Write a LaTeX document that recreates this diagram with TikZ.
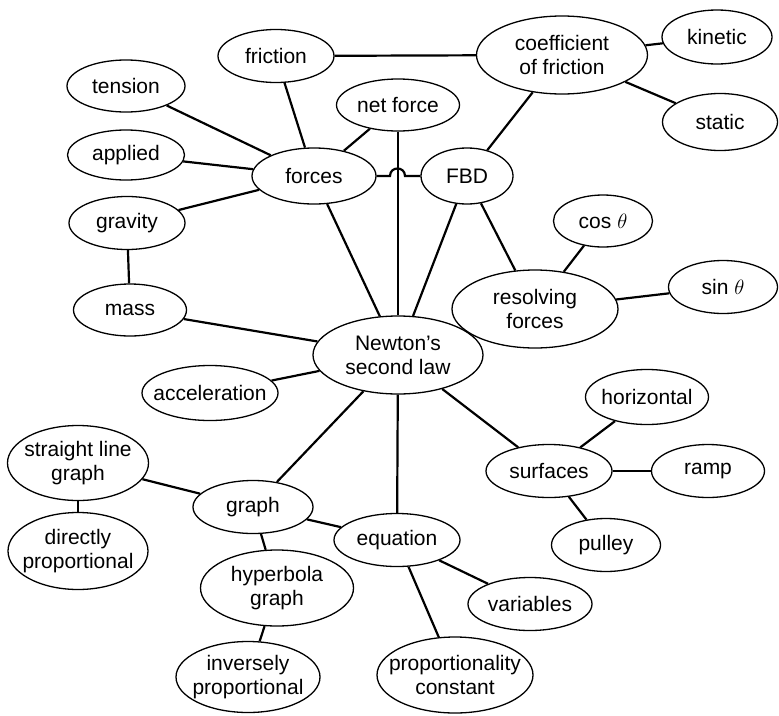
\documentclass[tikz,border=0pt]{standalone}
\usepackage{fontspec}
\setmainfont{Liberation Sans}
\usepackage{tikz}
\usetikzlibrary{shapes.geometric}

\begin{document}
\begin{tikzpicture}[
  x=1pt,y=-1pt,
  font=\fontsize{21}{24}\selectfont,
  concept/.style={draw=black,ellipse,line width=1.3pt,inner xsep=-16pt,inner ysep=-8pt,align=center},
  link/.style={line width=2.2pt,black}
]
\useasboundingbox (0,0) rectangle (779,715);
\node[concept,minimum width=116pt,minimum height=53pt] (fric) at (276,56) {friction};
\node[concept,minimum width=171pt,minimum height=78pt] (coef) at (562,55) {coefficient\\of friction};
\node[concept,minimum width=110pt,minimum height=54pt] (kin) at (717,37) {kinetic};
\node[concept,minimum width=115pt,minimum height=57pt] (stat) at (720,122) {static};
\node[concept,minimum width=118pt,minimum height=52pt] (tens) at (126,86) {tension};
\node[concept,minimum width=123pt,minimum height=52pt] (netf) at (398,105) {net force};
\node[concept,minimum width=117pt,minimum height=50pt] (appl) at (126,155) {applied};
\node[concept,minimum width=124pt,minimum height=56pt] (forces) at (314,176) {forces};
\node[concept,minimum width=92pt,minimum height=56pt] (fbd) at (467,176) {FBD};
\node[concept,minimum width=116pt,minimum height=53pt] (grav) at (127,223) {gravity};
\node[concept,minimum width=99pt,minimum height=52pt] (cos) at (603,221) {cos $\theta$};
\node[concept,minimum width=109pt,minimum height=53pt] (sin) at (723,287) {sin $\theta$};
\node[concept,minimum width=166pt,minimum height=78pt] (resolv) at (535,309) {resolving\\forces};
\node[concept,minimum width=113pt,minimum height=52pt] (mass) at (130,310) {mass};
\node[concept,minimum width=170pt,minimum height=78pt] (newton) at (398,355) {Newton's\\second law};
\node[concept,minimum width=136pt,minimum height=55pt] (accel) at (210,393) {acceleration};
\node[concept,minimum width=123pt,minimum height=55pt] (horiz) at (647,397) {horizontal};
\node[concept,minimum width=141pt,minimum height=75pt] (straight) at (78,463) {straight line\\graph};
\node[concept,minimum width=126pt,minimum height=53pt] (surf) at (549,471) {surfaces};
\node[concept,minimum width=113pt,minimum height=53pt] (ramp) at (708,471) {ramp};
\node[concept,minimum width=120pt,minimum height=53pt] (graph) at (253,507) {graph};
\node[concept,minimum width=126pt,minimum height=53pt] (eqn) at (397,540) {equation};
\node[concept,minimum width=109pt,minimum height=53pt] (pulley) at (606,545) {pulley};
\node[concept,minimum width=140pt,minimum height=77pt] (direct) at (78,551) {directly\\proportional};
\node[concept,minimum width=153pt,minimum height=76pt] (hyper) at (277,588) {hyperbola\\graph};
\node[concept,minimum width=124pt,minimum height=53pt] (vars) at (530,604) {variables};
\node[concept,minimum width=144pt,minimum height=71pt] (inverse) at (248,677) {inversely\\proportional};
\node[concept,minimum width=156pt,minimum height=76pt] (propc) at (455,675) {proportionality\\constant};
\coordinate (hopL) at (390,176);
\coordinate (hopR) at (405,176);
\draw[link] (fric) -- (coef);
\draw[link] (fric) -- (forces);
\draw[link] (coef) -- (kin);
\draw[link] (coef) -- (stat);
\draw[link] (coef) -- (fbd);
\draw[link] (tens) -- (forces);
\draw[link] (appl) -- (forces);
\draw[link] (grav) -- (forces);
\draw[link] (grav) -- (mass);
\draw[link] (netf) -- (forces);
\draw[link] (netf.south) -- (newton.north);
\draw[link] (forces.east) -- (hopL) .. controls +(0,-10) and +(0,-10) .. (hopR) -- (fbd.west);
\draw[link] (forces) -- (newton);
\draw[link] (fbd) -- (newton);
\draw[link] (fbd) -- (resolv);
\draw[link] (resolv) -- (cos);
\draw[link] (resolv) -- (sin);
\draw[link] (resolv) -- (newton);
\draw[link] (mass) -- (newton);
\draw[link] (accel) -- (newton);
\draw[link] (newton) -- (graph);
\draw[link] (newton) -- (eqn);
\draw[link] (newton) -- (surf);
\draw[link] (surf) -- (horiz);
\draw[link] (surf) -- (ramp);
\draw[link] (surf) -- (pulley);
\draw[link] (graph) -- (straight);
\draw[link] (straight) -- (direct);
\draw[link] (graph) -- (eqn);
\draw[link] (graph) -- (hyper);
\draw[link] (hyper) -- (inverse);
\draw[link] (eqn) -- (vars);
\draw[link] (eqn) -- (propc);
\end{tikzpicture}
\end{document}
